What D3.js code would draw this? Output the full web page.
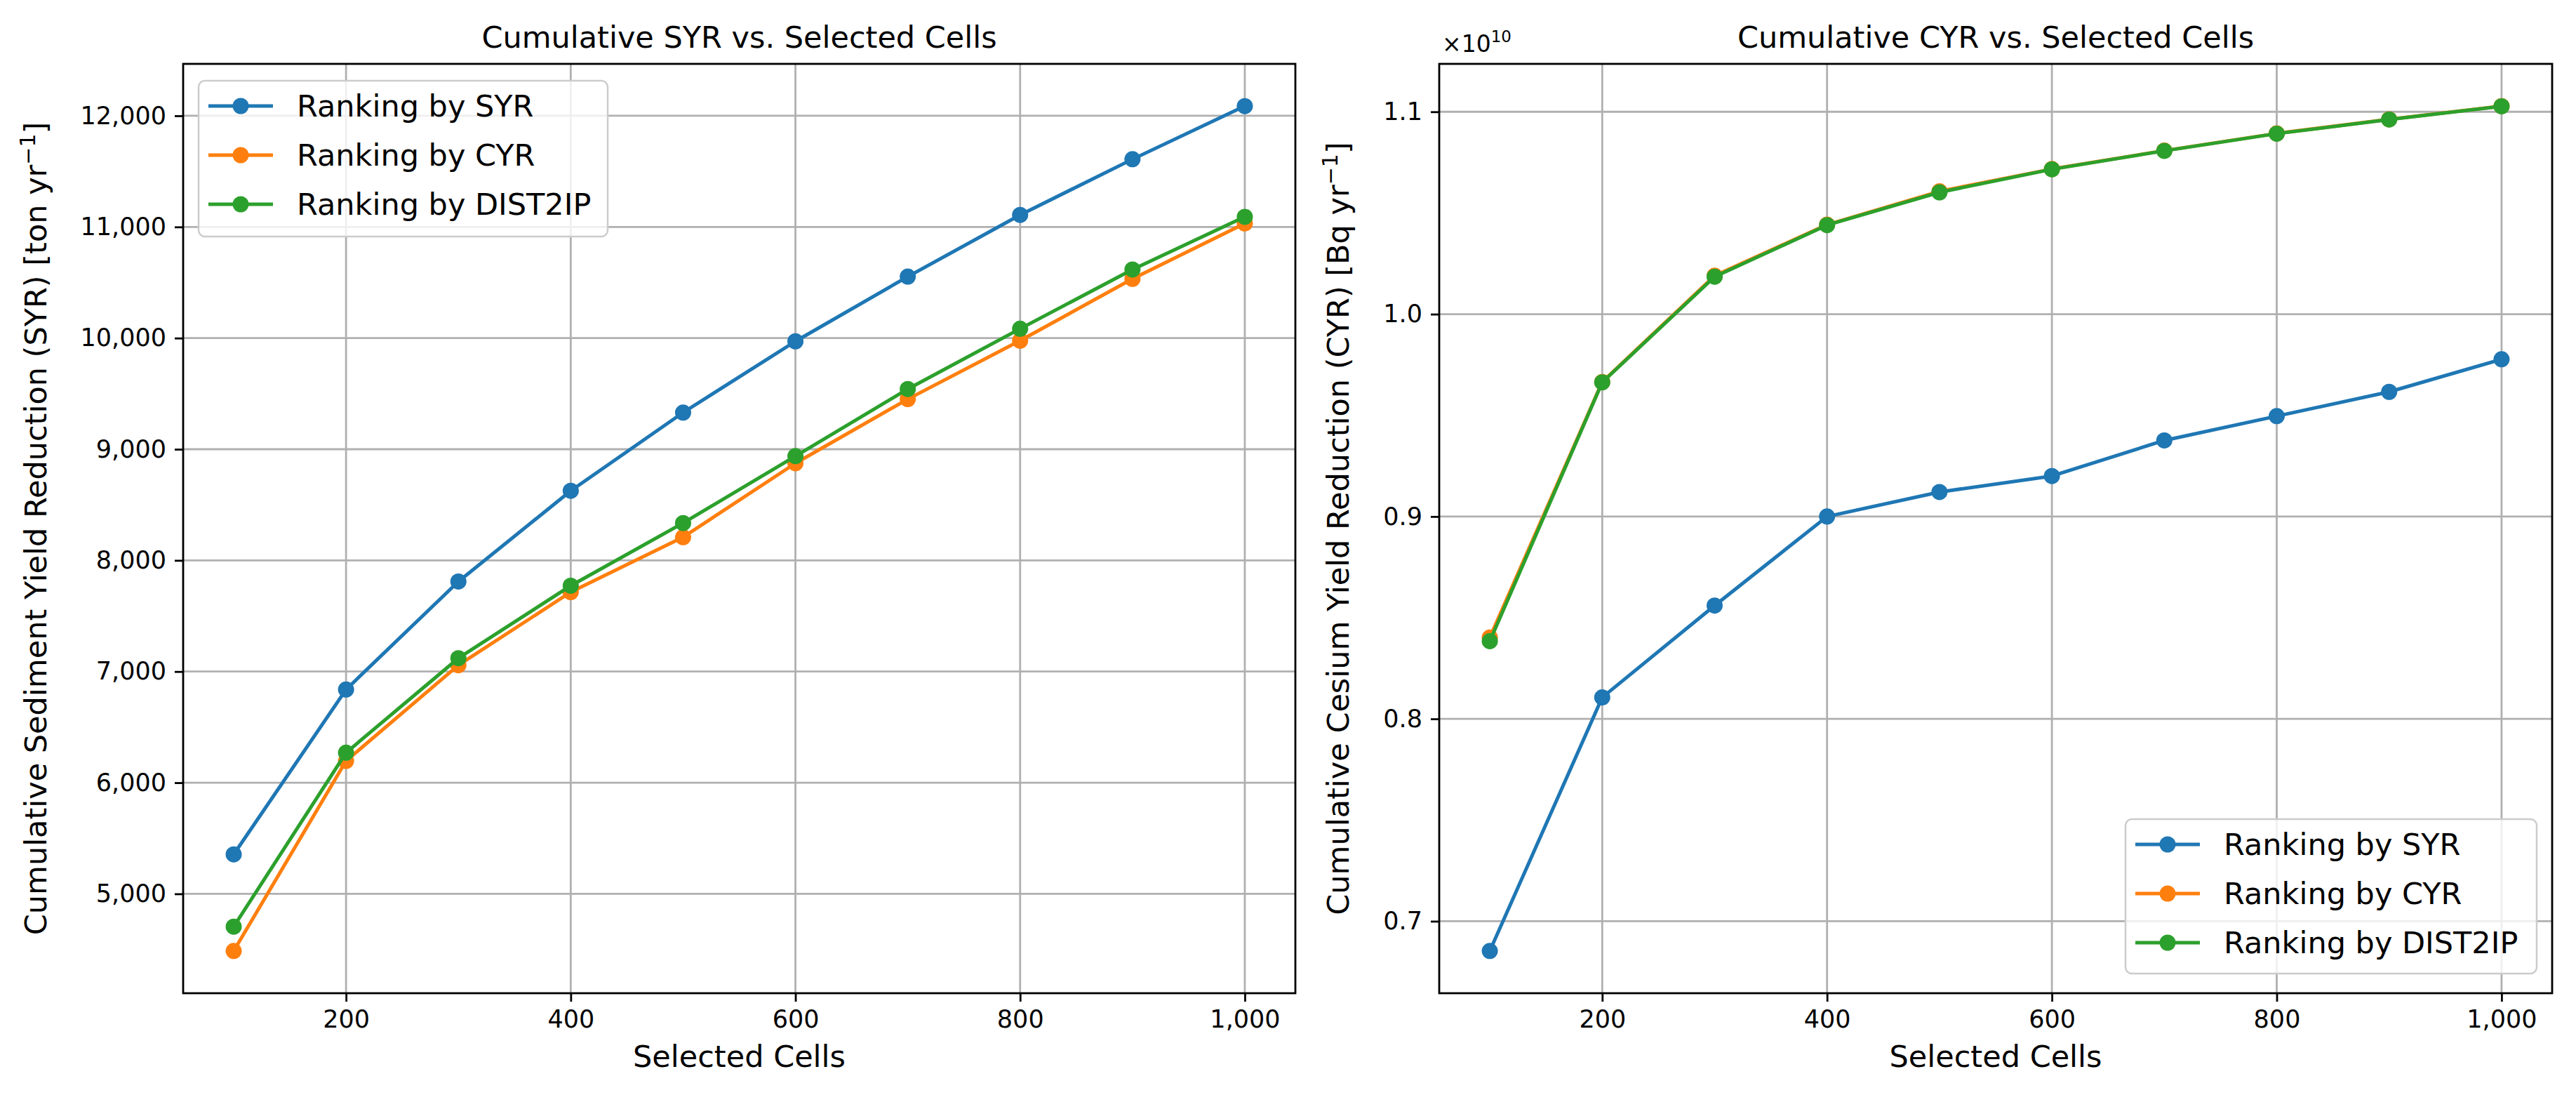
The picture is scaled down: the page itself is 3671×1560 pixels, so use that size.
<!DOCTYPE html>
<html>
<head>
<meta charset="utf-8">
<script src="https://cdn.jsdelivr.net/npm/d3@7"></script>
<style>
  html, body { margin: 0; padding: 0; background: #ffffff; }
  svg { display: block; }
  text { font-family: "DejaVu Sans", sans-serif; fill: #000; }
</style>
</head>
<body>
<svg id="chart" width="3671" height="1560"></svg>
<script>
// ---------------- DATA ----------------
const selectedCells = [100, 200, 300, 400, 500, 600, 700, 800, 900, 1000];
const seriesNames = ["Ranking by SYR", "Ranking by CYR", "Ranking by DIST2IP"];

// Left: cumulative SYR [ton/yr]
const syrBySYR    = [5355, 6838, 7810, 8626, 9330, 9971, 10553, 11108, 11609, 12087];
const syrByCYR    = [4486, 6196, 7057, 7715, 8209, 8874, 9451, 9977, 10533, 11032];
const syrByDIST   = [4705, 6270, 7120, 7772, 8336, 8938, 9542, 10084, 10617, 11091];

// Right: cumulative CYR [Bq/yr]
const cyrBySYR    = [0.6853e10, 0.8106e10, 0.8560e10, 0.9000e10, 0.9121e10, 0.9200e10, 0.9376e10, 0.9496e10, 0.9616e10, 0.9777e10];
const cyrByCYR    = [0.8402e10, 0.9665e10, 1.0190e10, 1.0442e10, 1.0607e10, 1.0717e10, 1.0808e10, 1.0893e10, 1.0963e10, 1.1028e10];
const cyrByDIST   = [0.8384e10, 0.9663e10, 1.0185e10, 1.0440e10, 1.0602e10, 1.0716e10, 1.0807e10, 1.0892e10, 1.0962e10, 1.1027e10];

const xTicks = [200, 400, 600, 800, 1000];
const leftYTicks = [5000, 6000, 7000, 8000, 9000, 10000, 11000, 12000];
const rightYTicks = [0.7e10, 0.8e10, 0.9e10, 1.0e10, 1.1e10];

const titles = ["Cumulative SYR vs. Selected Cells", "Cumulative CYR vs. Selected Cells"];
const xLabel = "Selected Cells";
const yLabels = [
  ["Cumulative Sediment Yield Reduction (SYR) [ton yr", "\u22121", "]"],
  ["Cumulative Cesium Yield Reduction (CYR) [Bq yr", "\u22121", "]"]
];
const colors = ["#1f77b4", "#ff7f0e", "#2ca02c"];

// ---------------- LAYOUT ----------------
const svg = d3.select("#chart");
const panels = [
  { left: 261, right: 1846, top: 91, bottom: 1415,
    series: [syrBySYR, syrByCYR, syrByDIST], yTicks: leftYTicks,
    yFmt: d3.format(","), title: titles[0], ylab: yLabels[0], ylabX: 66,
    legend: { x: 283, y: 115, w: 583, h: 222 }, offset: null },
  { left: 2051, right: 3637, top: 91, bottom: 1415,
    series: [cyrBySYR, cyrByCYR, cyrByDIST], yTicks: rightYTicks,
    yFmt: v => d3.format(".1f")(v / 1e10), title: titles[1], ylab: yLabels[1], ylabX: 1922,
    legend: { x: 3029, y: 1167, w: 586, h: 220 }, offset: "10" }
];

function padExtent(arrs) {
  const all = arrs.flat();
  const mn = d3.min(all), mx = d3.max(all);
  const m = (mx - mn) * 0.05;
  return [mn - m, mx + m];
}

const gridColor = "#b0b0b0";
const tickFont = 35, labelFont = 43;

panels.forEach(p => {
  const x = d3.scaleLinear().domain(padExtent([selectedCells])).range([p.left, p.right]);
  const y = d3.scaleLinear().domain(padExtent(p.series)).range([p.bottom, p.top]);
  const g = svg.append("g");

  // grid
  g.append("g").selectAll("line.vg").data(xTicks).join("line")
    .attr("x1", d => x(d)).attr("x2", d => x(d))
    .attr("y1", p.top).attr("y2", p.bottom)
    .attr("stroke", gridColor).attr("stroke-width", 2.8);
  g.append("g").selectAll("line.hg").data(p.yTicks).join("line")
    .attr("y1", d => y(d)).attr("y2", d => y(d))
    .attr("x1", p.left).attr("x2", p.right)
    .attr("stroke", gridColor).attr("stroke-width", 2.8);

  // axes with d3
  const xAxis = d3.axisBottom(x).tickValues(xTicks).tickFormat(d3.format(","))
    .tickSize(12).tickPadding(12);
  const yAxis = d3.axisLeft(y).tickValues(p.yTicks).tickFormat(p.yFmt)
    .tickSize(12).tickPadding(12);
  const gx = g.append("g").attr("transform", `translate(0,${p.bottom})`).call(xAxis);
  const gy = g.append("g").attr("transform", `translate(${p.left},0)`).call(yAxis);
  [gx, gy].forEach(a => {
    a.select(".domain").remove();
    a.selectAll(".tick line").attr("stroke", "#000").attr("stroke-width", 2.8);
    a.selectAll(".tick text").attr("font-size", tickFont)
      .style("font-family", "'DejaVu Sans', sans-serif").attr("fill", "#000");
  });

  // lines and markers
  const line = d3.line().x((d, i) => x(selectedCells[i])).y(d => y(d));
  p.series.forEach((s, k) => {
    g.append("path").datum(s).attr("d", line)
      .attr("fill", "none").attr("stroke", colors[k]).attr("stroke-width", 5)
      .attr("stroke-linejoin", "round").attr("stroke-linecap", "square");
    g.append("g").selectAll("circle").data(s).join("circle")
      .attr("cx", (d, i) => x(selectedCells[i])).attr("cy", d => y(d))
      .attr("r", 11.5).attr("fill", colors[k]);
  });

  // spines
  g.append("rect").attr("x", p.left).attr("y", p.top)
    .attr("width", p.right - p.left).attr("height", p.bottom - p.top)
    .attr("fill", "none").attr("stroke", "#000").attr("stroke-width", 2.8);

  // title
  g.append("text").attr("x", (p.left + p.right) / 2).attr("y", 68)
    .attr("text-anchor", "middle").attr("font-size", labelFont).text(p.title);

  // x label
  g.append("text").attr("x", (p.left + p.right) / 2).attr("y", 1520)
    .attr("text-anchor", "middle").attr("font-size", labelFont).text(xLabel);

  // y label
  const yl = g.append("text")
    .attr("transform", `translate(${p.ylabX},${(p.top + p.bottom) / 2}) rotate(-90)`)
    .attr("text-anchor", "middle").attr("font-size", labelFont);
  yl.append("tspan").text(p.ylab[0]);
  yl.append("tspan").attr("font-size", 30).attr("dy", -16).text(p.ylab[1]);
  yl.append("tspan").attr("dy", 16).text(p.ylab[2]);

  // offset text
  if (p.offset) {
    const ot = g.append("text").attr("x", p.left + 4).attr("y", 74).attr("font-size", 33);
    ot.append("tspan").text("\u00d710");
    ot.append("tspan").attr("font-size", 23).attr("dy", -14).text(p.offset);
  }

  // legend
  const L = p.legend;
  const lg = g.append("g");
  lg.append("rect").attr("x", L.x).attr("y", L.y).attr("width", L.w).attr("height", L.h)
    .attr("rx", 9).attr("ry", 9)
    .attr("fill", "#ffffff").attr("fill-opacity", 0.8)
    .attr("stroke", "#cccccc").attr("stroke-width", 2.5);
  seriesNames.forEach((name, k) => {
    const cy = L.y + 36 + k * 70;
    lg.append("line").attr("x1", L.x + 14).attr("x2", L.x + 106)
      .attr("y1", cy).attr("y2", cy).attr("stroke", colors[k]).attr("stroke-width", 5);
    lg.append("circle").attr("cx", L.x + 60).attr("cy", cy).attr("r", 11.5).attr("fill", colors[k]);
    lg.append("text").attr("x", L.x + 140).attr("y", cy).attr("dy", "0.36em")
      .attr("font-size", labelFont).text(name);
  });
});
</script>
</body>
</html>
